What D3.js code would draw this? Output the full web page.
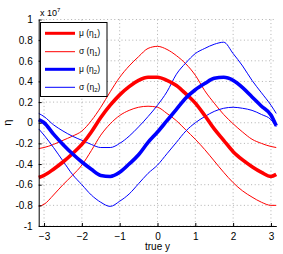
<!DOCTYPE html>
<html>
<head>
<meta charset="utf-8">
<script src="https://cdn.jsdelivr.net/npm/d3@7"></script>
<style>
  body { margin: 0; background: #fff; }
  svg { display: block; font-family: "Liberation Sans", Arial, sans-serif; }
</style>
</head>
<body>
<svg id="chart" width="283" height="254"></svg>
<script>
// sample positions (true y)
const xs = [-3.14, -3.0, -2.75, -2.5, -2.25, -2.0, -1.75, -1.5, -1.25, -1.0, -0.75, -0.5, -0.25, 0,
  0.25, 0.5, 0.75, 1.0, 1.25, 1.5, 1.75, 2.0, 2.25, 2.5, 2.75, 3.0, 3.14];

// values in units of 1e7
const mu1 = [-0.53, -0.51, -0.45, -0.38, -0.30, -0.21, -0.09, 0.05, 0.17, 0.27, 0.35, 0.41, 0.44, 0.44,
  0.41, 0.36, 0.28, 0.19, 0.07, -0.06, -0.17, -0.28, -0.36, -0.425, -0.48, -0.52, -0.50];
const sig1Up = [-0.25, -0.24, -0.21, -0.17, -0.13, -0.08, 0.02, 0.15, 0.30, 0.44, 0.55, 0.64, 0.72, 0.74,
  0.71, 0.65, 0.57, 0.46, 0.31, 0.19, 0.08, -0.01, -0.09, -0.16, -0.20, -0.23, -0.24];
const sig1Lo = [-0.81, -0.79, -0.70, -0.60, -0.51, -0.41, -0.27, -0.12, -0.01, 0.07, 0.12, 0.15, 0.16, 0.15,
  0.09, 0.02, -0.07, -0.16, -0.26, -0.37, -0.48, -0.58, -0.66, -0.72, -0.77, -0.80, -0.80];
const mu2 = [0.03, 0.0, -0.11, -0.21, -0.30, -0.38, -0.45, -0.51, -0.52, -0.48, -0.40, -0.31, -0.19, -0.09,
  0.02, 0.13, 0.24, 0.32, 0.38, 0.43, 0.44, 0.41, 0.34, 0.25, 0.16, 0.075, -0.03];
const sig2Up = [0.09, 0.06, -0.02, -0.08, -0.13, -0.17, -0.21, -0.24, -0.24, -0.20, -0.13, -0.04, 0.06, 0.17,
  0.30, 0.47, 0.58, 0.67, 0.72, 0.76, 0.78, 0.67, 0.55, 0.41, 0.29, 0.17, 0.09];
const sig2Lo = [-0.06, -0.12, -0.24, -0.37, -0.50, -0.60, -0.70, -0.77, -0.81, -0.76, -0.69, -0.59, -0.49, -0.41,
  -0.30, -0.19, -0.08, 0.0, 0.06, 0.11, 0.14, 0.15, 0.14, 0.12, 0.08, 0.03, -0.04];

const xTicks = [-3, -2, -1, 0, 1, 2, 3];
const yTicks = [-1, -0.8, -0.6, -0.4, -0.2, 0, 0.2, 0.4, 0.6, 0.8, 1];
const legendLabels = [["μ", "1"], ["σ", "1"], ["μ", "2"], ["σ", "2"]];

const W = 283, H = 254;
const margin = { top: 19.5, right: 6.7, bottom: 28, left: 38.7 };
const iw = W - margin.left - margin.right;
const ih = H - margin.top - margin.bottom;

const svg = d3.select('#chart');
const g = svg.append('g').attr('transform', `translate(${margin.left},${margin.top})`);

const x = d3.scaleLinear().domain([-Math.PI, Math.PI]).range([0, iw]);
const y = d3.scaleLinear().domain([-1, 1]).range([ih, 0]);

// dotted grid
const grid = g.append('g').attr('class', 'grid')
  .attr('stroke', '#b0b0b0').attr('stroke-width', 1).attr('stroke-dasharray', '1,2.6');
xTicks.forEach(t => {
  grid.append('line').attr('x1', x(t)).attr('x2', x(t)).attr('y1', 0).attr('y2', ih);
});
yTicks.forEach(t => {
  grid.append('line').attr('x1', 0).attr('x2', iw).attr('y1', y(t)).attr('y2', y(t));
});

// series
const series = [
  { v: sig1Up, color: '#ff0000', w: 1 },
  { v: sig1Lo, color: '#ff0000', w: 1 },
  { v: sig2Up, color: '#0000ff', w: 1 },
  { v: sig2Lo, color: '#0000ff', w: 1 },
  { v: mu1, color: '#ff0000', w: 3.6 },
  { v: mu2, color: '#0000ff', w: 3.6 }
];
const line = d3.line()
  .x((d, i) => x(xs[i]))
  .y(d => y(d))
  .curve(d3.curveMonotoneX);

g.append('g').attr('class', 'series')
  .selectAll('path')
  .data(series)
  .enter()
  .append('path')
  .attr('d', d => line(d.v))
  .attr('fill', 'none')
  .attr('stroke', d => d.color)
  .attr('stroke-width', d => d.w)
  .attr('stroke-linejoin', 'round');

// axes (ticks point inward, matlab style)
const xAxis = d3.axisBottom(x).tickValues(xTicks).tickSizeInner(-3).tickSizeOuter(0)
  .tickPadding(7).tickFormat(d3.format('d'));
const yAxis = d3.axisLeft(y).tickValues(yTicks).tickSizeInner(-3).tickSizeOuter(0)
  .tickPadding(6).tickFormat(d => d === 0 ? '0' : d3.format('')(d).replace('−', '-'));

const gx = g.append('g').attr('transform', `translate(0,${ih})`).call(xAxis);
const gy = g.append('g').call(yAxis);
[gx, gy].forEach(a => {
  a.select('.domain').attr('stroke', '#000');
  a.selectAll('.tick line').attr('stroke', '#000');
  a.selectAll('.tick text').attr('fill', '#000').attr('font-size', 10)
    .attr('font-family', '"Liberation Sans", Arial, sans-serif');
});

// axis labels
svg.append('text')
  .attr('x', margin.left + x(0)).attr('y', 250)
  .attr('text-anchor', 'middle').attr('font-size', 10)
  .text('true y');
svg.append('text')
  .attr('transform', `translate(11,${margin.top + y(0)}) rotate(-90)`)
  .attr('text-anchor', 'middle').attr('font-size', 11)
  .text('η');

// exponent
const expo = svg.append('text').attr('x', 40).attr('y', 16).attr('font-size', 9);
expo.append('tspan').text('x 10');
expo.append('tspan').attr('dy', -4).attr('font-size', 6).text('7');

// legend
const leg = svg.append('g').attr('transform', 'translate(40.5,22.5)');
leg.append('rect').attr('width', 66.5).attr('height', 74)
  .attr('fill', '#fff').attr('stroke', '#000').attr('stroke-width', 1);
const rowsY = [10.8, 29.2, 46.8, 64.8];
const legStyle = [
  { color: '#ff0000', w: 3 },
  { color: '#ff0000', w: 1 },
  { color: '#0000ff', w: 3 },
  { color: '#0000ff', w: 1 }
];
legendLabels.forEach((lab, i) => {
  const ry = rowsY[i];
  leg.append('line').attr('x1', 4.5).attr('x2', 34.5).attr('y1', ry).attr('y2', ry)
    .attr('stroke', legStyle[i].color).attr('stroke-width', legStyle[i].w);
  const t = leg.append('text').attr('x', 38.5).attr('y', ry + 2.5).attr('font-size', 8.5);
  t.append('tspan').text(lab[0] + ' (η');
  t.append('tspan').attr('dy', 2).attr('font-size', 6).text(lab[1]);
  t.append('tspan').attr('dy', -2).text(')');
});
</script>
</body>
</html>
